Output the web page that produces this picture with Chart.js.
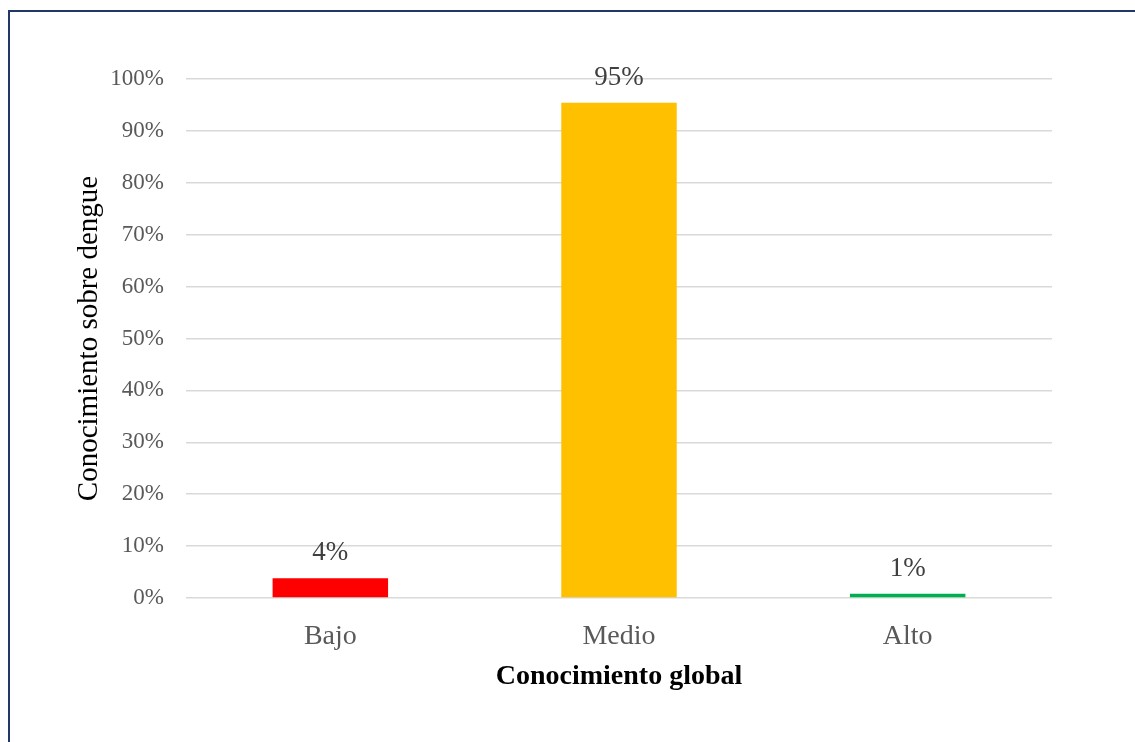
<!DOCTYPE html>
<html lang="es">
<head>
    <meta charset="UTF-8">
    <title>Conocimiento global</title>
    <script src="https://cdn.jsdelivr.net/npm/chart.js"></script>
    <style>
        html, body {
            margin: 0;
            padding: 0;
            background: #ffffff;
            overflow: hidden;
        }
        .marco {
            position: absolute;
            left: 8px;
            top: 10px;
            width: 1300px;
            height: 900px;
            border: 2px solid #203864;
        }
        .grafico {
            position: absolute;
            left: 0;
            top: 0;
            width: 1135px;
            height: 742px;
        }
    </style>
</head>
<body>
    <div class="marco"></div>
    <div class="grafico">
        <canvas id="conocimientoChart"></canvas>
    </div>
    <script>
        // Datos del gráfico
        const categorias = ['Bajo', 'Medio', 'Alto'];
        const porcentajes = [3.8, 95.4, 0.8];
        const colores = ['#FF0000', '#FFC000', '#00B050'];
        const ticksY = [0, 10, 20, 30, 40, 50, 60, 70, 80, 90, 100];

        const fuente = "'Liberation Serif', 'Times New Roman', serif";

        // Etiquetas de valor encima de cada barra
        const etiquetasBarras = {
            id: 'etiquetasBarras',
            afterDatasetsDraw(chart) {
                const ctx = chart.ctx;
                const meta = chart.getDatasetMeta(0);
                ctx.save();
                ctx.font = '27px ' + fuente;
                ctx.fillStyle = '#404040';
                ctx.textAlign = 'center';
                ctx.textBaseline = 'middle';
                meta.data.forEach(function (barra, i) {
                    const texto = Math.round(porcentajes[i]) + '%';
                    ctx.fillText(texto, barra.x, barra.y - 25);
                });
                ctx.restore();
            }
        };

        const ctx = document.getElementById('conocimientoChart').getContext('2d');
        const conocimientoChart = new Chart(ctx, {
            type: 'bar',
            data: {
                labels: categorias,
                datasets: [{
                    label: 'Conocimiento sobre dengue',
                    data: porcentajes,
                    backgroundColor: colores,
                    borderWidth: 0,
                    barPercentage: 0.4,
                    categoryPercentage: 1
                }]
            },
            options: {
                responsive: true,
                maintainAspectRatio: false,
                animation: false,
                layout: {
                    padding: { top: 79, right: 83, left: 0, bottom: 0 }
                },
                plugins: {
                    legend: { display: false },
                    tooltip: { enabled: false }
                },
                scales: {
                    x: {
                        grid: { display: false },
                        border: { display: false },
                        ticks: {
                            color: '#595959',
                            padding: 14,
                            font: { family: fuente, size: 28 }
                        },
                        title: {
                            display: true,
                            text: 'Conocimiento global',
                            color: '#000000',
                            padding: { top: 0, bottom: 48 },
                            font: { family: fuente, size: 28, weight: 'bold' }
                        },
                        afterFit(scale) {
                            scale.height = 144;
                        }
                    },
                    y: {
                        min: 0,
                        max: 100,
                        afterBuildTicks(scale) {
                            scale.ticks = ticksY.map(v => ({ value: v }));
                        },
                        grid: {
                            color: '#D9D9D9',
                            lineWidth: 1.5,
                            drawTicks: false,
                            tickLength: 0
                        },
                        border: { display: false },
                        ticks: {
                            color: '#595959',
                            padding: 22,
                            font: { family: fuente, size: 23 },
                            callback: v => v + '%'
                        },
                        title: {
                            display: true,
                            text: 'Conocimiento sobre dengue',
                            color: '#000000',
                            padding: { top: 72, bottom: 0 },
                            font: { family: fuente, size: 29 }
                        },
                        afterFit(scale) {
                            scale.width = 186;
                        }
                    }
                }
            },
            plugins: [etiquetasBarras]
        });
    </script>
</body>
</html>
